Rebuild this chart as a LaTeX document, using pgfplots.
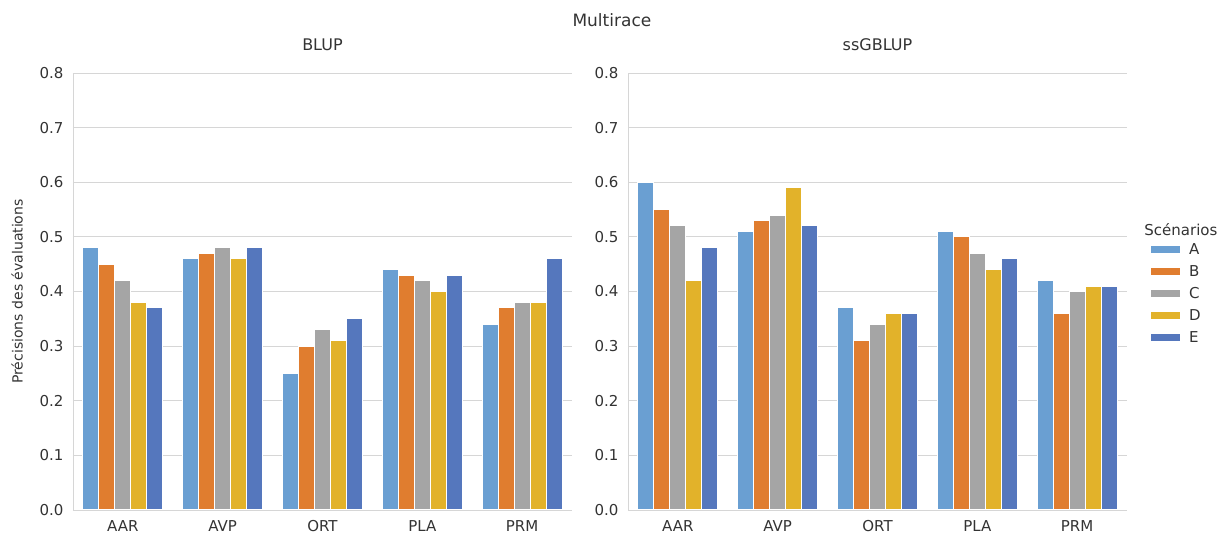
\documentclass[border=0pt]{standalone}
\usepackage{fontspec}
\setmainfont{DejaVu Sans}
\usepackage{pgfplots}
\usepackage{pgfplotstable}
\pgfplotsset{compat=1.18}

\definecolor{cA}{HTML}{6A9FD2}
\definecolor{cB}{HTML}{E07D2F}
\definecolor{cC}{HTML}{A5A5A5}
\definecolor{cD}{HTML}{E2B22A}
\definecolor{cE}{HTML}{5577BD}
\definecolor{gridgray}{HTML}{D6D6D6}
\definecolor{textgray}{HTML}{333333}

\pgfplotstableread{
x A B C D E
0 0.48 0.45 0.42 0.38 0.37
1 0.46 0.47 0.48 0.46 0.48
2 0.25 0.30 0.33 0.31 0.35
3 0.44 0.43 0.42 0.40 0.43
4 0.34 0.37 0.38 0.38 0.46
}\blup

\pgfplotstableread{
x A B C D E
0 0.60 0.55 0.52 0.42 0.48
1 0.51 0.53 0.54 0.59 0.52
2 0.37 0.31 0.34 0.36 0.36
3 0.51 0.50 0.47 0.44 0.46
4 0.42 0.36 0.40 0.41 0.41
}\ssgblup

\pgfplotsset{
  panel/.style={
    width=499pt, height=437pt, scale only axis,
    xmin=-0.5, xmax=4.5, ymin=0, ymax=0.8,
    xtick={0,1,2,3,4}, xticklabels={AAR,AVP,ORT,PLA,PRM},
    ytick={0,0.1,0.2,0.3,0.4,0.5,0.6,0.7,0.8},
    yticklabel style={xshift=-6pt, /pgf/number format/.cd, fixed, fixed zerofill, precision=1},
    /pgf/number format/assume math mode=true,
    ymajorgrids, grid style={draw=gridgray, line width=0.9pt},
    axis x line*=bottom, axis y line*=left,
    axis line style={draw=gridgray, line width=0.9pt, -},
    major tick length=0pt,
    tick label style={font=\fontsize{15}{18}\selectfont, text=textgray},
    xticklabel style={yshift=-7pt},
    ybar, bar width=0.16,
    clip=false,
    every axis plot/.append style={draw=white, line width=1pt},
    legend image code/.code={\fill[##1] (0pt,-4pt) rectangle (30pt,4pt);},
  }
}

\begin{document}
\begin{tikzpicture}
\useasboundingbox (-73pt,-25pt) rectangle (1150pt,510pt);
\begin{axis}[panel, name=left]
  \addplot[fill=cA, bar shift=-0.32] table[x=x, y=A] {\blup};
  \addplot[fill=cB, bar shift=-0.16] table[x=x, y=B] {\blup};
  \addplot[fill=cC, bar shift=0] table[x=x, y=C] {\blup};
  \addplot[fill=cD, bar shift=0.16] table[x=x, y=D] {\blup};
  \addplot[fill=cE, bar shift=0.32] table[x=x, y=E] {\blup};
  \node[font=\fontsize{16}{19}\selectfont, text=textgray] at (rel axis cs:0.5,1.064) {BLUP};
  \node[font=\fontsize{17}{20}\selectfont, text=textgray] at (rel axis cs:1.08,1.121) {Multirace};
  \node[rotate=90, font=\fontsize{14}{17}\selectfont, text=textgray] at (rel axis cs:-0.112,0.5) {Précisions des évaluations};
\end{axis}
\begin{axis}[panel, xshift=555pt,
    legend style={at={(rel axis cs:1.040,0.620)}, anchor=north west, draw=none, fill=none,
      font=\fontsize{15}{18}\selectfont, text=textgray, row sep=5.5pt,
      nodes={inner xsep=8pt}},
    legend cell align=left]
  \addplot[fill=cA, bar shift=-0.32] table[x=x, y=A] {\ssgblup};
  \addplot[fill=cB, bar shift=-0.16] table[x=x, y=B] {\ssgblup};
  \addplot[fill=cC, bar shift=0] table[x=x, y=C] {\ssgblup};
  \addplot[fill=cD, bar shift=0.16] table[x=x, y=D] {\ssgblup};
  \addplot[fill=cE, bar shift=0.32] table[x=x, y=E] {\ssgblup};
  \legend{A,B,C,D,E}
  \node[font=\fontsize{16}{19}\selectfont, text=textgray] at (rel axis cs:0.5,1.064) {ssGBLUP};
  \node[font=\fontsize{15}{18}\selectfont, text=textgray] at (rel axis cs:1.108,0.641) {Scénarios};
\end{axis}
\end{tikzpicture}
\end{document}
